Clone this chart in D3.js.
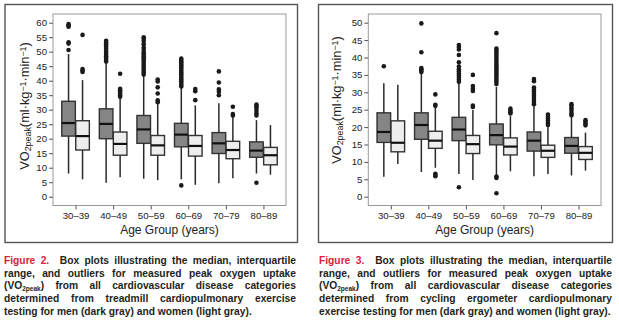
<!DOCTYPE html>
<html>
<head>
<meta charset="utf-8">
<script src="https://cdn.jsdelivr.net/npm/d3@7"></script>
<style>
  body { margin: 0; background: #fff; font-family: "Liberation Sans", Arial, sans-serif; }
  #wrap { position: relative; width: 619px; height: 327px; }
  svg { position: absolute; left: 0; top: 0; }
  .caption {
    position: absolute; top: 255px; font-weight: bold; font-size: 10.25px;
    line-height: 12.7px; color: #231f20; text-align: justify;
  }
  .caption .fig { color: #d9213f; }
  .caption sub { font-size: 6.5px; vertical-align: -2px; line-height: 0; }
</style>
</head>
<body>
<div id="wrap">
  <svg id="chart" width="619" height="327"></svg>
  <div class="caption" style="left:4px; width:292px;"><span class="fig">Figure 2.</span>&nbsp; Box plots illustrating the median, interquartile range, and outliers for measured peak oxygen uptake (VO<sub>2peak</sub>) from all cardiovascular disease categories determined from treadmill cardiopulmonary exercise testing for men (dark gray) and women (light gray).</div>
  <div class="caption" style="left:319px; width:293px;"><span class="fig">Figure 3.</span>&nbsp; Box plots illustrating the median, interquartile range, and outliers for measured peak oxygen uptake (VO<sub>2peak</sub>) from all cardiovascular disease categories determined from cycling ergometer cardiopulmonary exercise testing for men (dark gray) and women (light gray).</div>
</div>
<script>
// -- DATA --
const ageGroups = ["30–39", "40–49", "50–59", "60–69", "70–79", "80–89"];

// [lower whisker, q1, median, q3, upper whisker]
const treadmillMen = [
  [8.0, 20.9, 25.4, 32.9, 49.2],
  [4.8, 20.0, 25.1, 30.3, 46.2],
  [6.2, 18.4, 23.2, 28.0, 41.6],
  [6.0, 17.2, 21.4, 25.3, 37.7],
  [4.6, 14.9, 18.4, 22.1, 32.2],
  [8.0, 13.6, 15.9, 18.9, 26.4]
];
const treadmillWomen = [
  [6.0, 16.1, 20.9, 26.2, 40.2],
  [6.7, 14.3, 18.2, 22.3, 34.0],
  [5.7, 14.3, 17.7, 21.1, 32.2],
  [4.1, 14.0, 17.5, 21.1, 31.5],
  [6.4, 13.1, 16.1, 19.1, 28.7],
  [7.6, 11.0, 14.3, 17.0, 24.7]
];
const treadmillMenOut = [
  [59.5, 59.0, 58.6, 53.2, 52.8, 50.6],
  [53.8, 53.2, 52.6, 51.9, 51.0, 50.2, 49.6, 49.0, 48.4, 47.8, 47.2, 46.6],
  [55.0, 54.4, 53.7, 52.6, 51.4, 50.6, 49.8, 49.1, 48.4, 47.7, 47.0, 46.3, 45.6, 44.9, 44.2, 43.5, 42.8, 42.1],
  [47.6, 47.0, 46.4, 45.8, 45.2, 44.6, 44.0, 43.4, 42.8, 42.2, 41.6, 41.0, 40.4, 39.8, 39.2, 38.6, 38.0, 3.9],
  [43.2, 39.4, 37.0, 36.2, 35.0],
  [31.8, 31.2, 30.6, 29.6, 28.8, 28.0, 4.8]
];
const treadmillWomenOut = [
  [55.8, 44.0, 43.5, 43.0],
  [42.4, 37.2, 36.7, 36.2, 35.6, 35.0, 34.5],
  [40.4, 39.7, 37.7, 35.6, 33.2, 32.6],
  [37.1, 36.4, 33.3],
  [31.0, 28.5, 28.0],
  []
];

const cycleMen = [
  [5.7, 15.6, 18.6, 24.1, 32.6],
  [7.1, 16.5, 20.6, 24.1, 35.4],
  [6.5, 16.1, 19.3, 22.8, 32.8],
  [6.2, 14.9, 17.7, 20.9, 31.6],
  [5.9, 13.1, 16.1, 18.6, 26.1],
  [6.1, 12.5, 14.6, 17.0, 23.0]
];
const cycleWomen = [
  [9.4, 12.9, 15.5, 21.8, 32.2],
  [8.3, 13.9, 16.1, 18.8, 25.6],
  [4.8, 12.4, 15.1, 17.6, 24.9],
  [7.3, 12.0, 14.4, 16.9, 23.2],
  [6.5, 11.3, 13.2, 14.8, 20.7],
  [7.5, 10.7, 12.6, 14.4, 18.4]
];
const cycleMenOut = [
  [37.5],
  [49.8, 41.5, 37.0, 36.6, 36.2, 35.8],
  [43.6, 43.0, 42.3, 40.7, 38.6, 37.4, 36.6, 36.0, 35.4, 34.8, 34.2, 33.6, 33.0, 2.7],
  [47.0, 42.6, 42.0, 41.4, 40.8, 40.2, 39.6, 39.0, 38.4, 37.8, 37.2, 36.6, 36.0, 35.4, 34.8, 34.2, 33.6, 33.0, 32.4, 5.8, 5.4, 1.0],
  [33.8, 33.2, 31.4, 30.8, 30.2, 29.6, 29.0, 28.4, 27.8, 27.2, 26.6],
  [26.6, 26.1, 25.4, 24.7, 24.0, 23.4]
];
const cycleWomenOut = [
  [],
  [29.4, 26.4, 26.1, 6.6, 6.2, 5.9],
  [35.0, 31.8, 31.0, 30.4, 26.2, 25.8],
  [25.3, 24.8, 24.3, 23.9],
  [23.6, 23.0, 22.4, 21.8, 21.2, 20.6],
  [22.0, 21.5, 21.0, 20.5]
];

const ticksTreadmill = d3.range(0, 61, 5);
const ticksCycle = d3.range(0, 51, 5);

const menFill = "#858585";
const womenFill = "#eeeeee";

const svg = d3.select("#chart");

function panel(o) {
  // outer frame
  svg.append("rect")
    .attr("x", o.frame[0]).attr("y", 4.5)
    .attr("width", o.frame[1] - o.frame[0]).attr("height", 238)
    .attr("fill", "none").attr("stroke", "#555").attr("stroke-width", 1.4);

  const w = o.plot[1] - o.plot[0];
  const h = 191.5;
  const g = svg.append("g").attr("transform", `translate(${o.plot[0]},14)`);

  const x = d3.scalePoint().domain(ageGroups).range([0, w]).padding(0.6);
  const y = d3.scaleLinear().domain([0, o.max]).range([182.7, 8.7]);

  g.append("rect").attr("width", w).attr("height", h)
    .attr("fill", "#fff").attr("stroke", "#999").attr("stroke-width", 1);

  // axes
  const ya = g.append("g").call(d3.axisLeft(y).tickValues(o.ticks).tickSize(4).tickPadding(2));
  const xa = g.append("g").attr("transform", `translate(0,${h})`)
    .call(d3.axisBottom(x).tickSize(4).tickPadding(3));
  [ya, xa].forEach(a => {
    a.select(".domain").remove();
    a.selectAll("line").attr("stroke", "#555");
    a.selectAll("text").attr("fill", "#222").style("font-size", "9.6px")
      .style("font-family", "Liberation Sans, Arial, sans-serif");
  });

  const bw = 13.6;
  const series = [
    { stats: o.men, out: o.menOut, fill: menFill, dx: -bw - 0.2 },
    { stats: o.women, out: o.womenOut, fill: womenFill, dx: 0.2 }
  ];
  series.forEach(s => {
    const grp = g.append("g").selectAll("g").data(s.stats).join("g")
      .attr("transform", (d, i) => `translate(${x(ageGroups[i]) + s.dx},0)`);
    grp.append("line")
      .attr("x1", bw / 2).attr("x2", bw / 2)
      .attr("y1", d => y(d[0])).attr("y2", d => y(d[4]))
      .attr("stroke", "#2a2a2a").attr("stroke-width", 1.5);
    grp.append("rect")
      .attr("x", 0).attr("width", bw)
      .attr("y", d => y(d[3])).attr("height", d => y(d[1]) - y(d[3]))
      .attr("fill", s.fill).attr("stroke", "#333").attr("stroke-width", 1.4);
    grp.append("line")
      .attr("x1", 0).attr("x2", bw)
      .attr("y1", d => y(d[2])).attr("y2", d => y(d[2]))
      .attr("stroke", "#111").attr("stroke-width", 2.2);
    grp.selectAll("circle").data((d, i) => s.out[i]).join("circle")
      .attr("cx", bw / 2).attr("cy", v => y(v)).attr("r", 2.3)
      .attr("fill", "#1a1a1a");
  });

  // axis titles
  g.append("text")
    .attr("x", w / 2).attr("y", h + 28)
    .attr("text-anchor", "middle").attr("fill", "#222")
    .style("font-size", "12px").text("Age Group (years)");

  const t = svg.append("text")
    .attr("transform", `translate(${o.titleX},${o.titleY}) rotate(-90)`)
    .attr("text-anchor", "middle").attr("fill", "#222")
    .style("font-size", "12.8px");
  t.append("tspan").text("VO");
  t.append("tspan").attr("baseline-shift", "-22%").style("font-size", "8.9px").text("2peak");
  t.append("tspan").text("(ml·kg");
  t.append("tspan").attr("baseline-shift", "38%").style("font-size", "8.9px").text("−1");
  t.append("tspan").text("·min");
  t.append("tspan").attr("baseline-shift", "38%").style("font-size", "8.9px").text("−1");
  t.append("tspan").text(")");
}

panel({
  frame: [5, 297.5], plot: [53, 286], max: 60, ticks: ticksTreadmill,
  men: treadmillMen, women: treadmillWomen, menOut: treadmillMenOut, womenOut: treadmillWomenOut,
  titleX: 29, titleY: 106
});
panel({
  frame: [318.5, 612.5], plot: [368.3, 601], max: 50, ticks: ticksCycle,
  men: cycleMen, women: cycleWomen, menOut: cycleMenOut, womenOut: cycleWomenOut,
  titleX: 341, titleY: 100
});
</script>
</body>
</html>
